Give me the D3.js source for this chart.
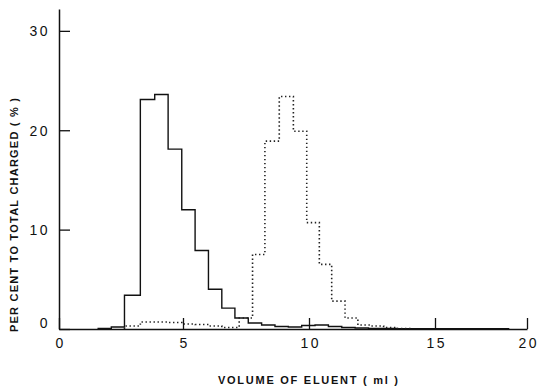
<!DOCTYPE html>
<html>
<head>
<meta charset="utf-8">
<script src="https://cdn.jsdelivr.net/npm/d3@7"></script>
<style>
  html, body { margin: 0; padding: 0; background: #fff; }
  svg { display: block; }
  text { font-family: "Liberation Sans", Arial, sans-serif; fill: #111; }
</style>
</head>
<body>
<svg id="chart" width="548" height="387"></svg>
<script>
// ---- data ----
const xTicks = [0, 5, 10, 15, 20];
const yTicks = [0, 10, 20, 30];

// solid histogram: bin edges (ml) and per cent values
const solidEdges = [1.58, 2.11, 2.64, 3.28, 3.86, 4.40, 4.95, 5.48, 6.01, 6.54, 7.06, 7.59, 8.12, 8.65, 9.18, 9.71, 10.24, 10.77, 11.30, 11.83, 12.36, 13.5, 15.0, 19.0];
const solidValues = [0.05, 0.2, 3.4, 23.1, 23.6, 18.1, 12.0, 7.9, 4.0, 2.1, 1.1, 0.6, 0.4, 0.25, 0.2, 0.35, 0.4, 0.25, 0.15, 0.1, 0.05, 0.03, 0.02];

// dotted histogram
const dottedEdges = [2.64, 3.28, 3.86, 4.40, 4.95, 5.48, 6.01, 6.54, 7.23, 7.76, 8.25, 8.82, 9.38, 9.91, 10.41, 10.90, 11.43, 11.94, 12.43, 12.96, 13.50, 14.0];
const dottedValues = [0.3, 0.7, 0.7, 0.65, 0.5, 0.45, 0.3, 0.15, 1.1, 7.5, 18.9, 23.4, 19.9, 10.7, 6.5, 2.8, 1.1, 0.4, 0.3, 0.15, 0.05];

const xTitle = "VOLUME OF ELUENT ( ml )";
const yTitle = "PER CENT TO TOTAL CHARGED ( % )";

// ---- drawing ----
const svg = d3.select("#chart");

// the printed axis is slightly compressed between 15 and 20
const x = d3.scaleLinear().domain([0, 5, 10, 15, 20]).range([59, 183, 309, 435, 527]);
const y = d3.scaleLinear().domain([0, 32.2]).range([329, 9]);

function stepPoints(edges, values) {
  const pts = [[edges[0], 0]];
  values.forEach((v, i) => { pts.push([edges[i], v]); pts.push([edges[i + 1], v]); });
  pts.push([edges[edges.length - 1], 0]);
  return pts;
}
const line = d3.line().x(d => x(d[0])).y(d => y(d[1]));

svg.append("path")
  .attr("d", line(stepPoints(solidEdges, solidValues)))
  .attr("fill", "none").attr("stroke", "#111").attr("stroke-width", 1.4);

svg.append("path")
  .attr("d", line(stepPoints(dottedEdges, dottedValues)))
  .attr("fill", "none").attr("stroke", "#222").attr("stroke-width", 1.6)
  .attr("stroke-dasharray", "1.4 2.6");

// axes
const xAxis = d3.axisBottom(x).tickValues(xTicks).tickSizeInner(-11).tickSizeOuter(0).tickPadding(0).tickFormat(d3.format("d"));
const gx = svg.append("g").attr("transform", `translate(0,${y(0)})`).call(xAxis);
gx.select(".domain").attr("stroke", "#111").attr("stroke-width", 1.5);
gx.selectAll(".tick line").attr("stroke", "#111").attr("stroke-width", 1.3);
gx.selectAll(".tick text").attr("y", 19).attr("dy", 0)
  .style("font-size", "14px").style("letter-spacing", "2.5px").attr("fill", "#111")
  .attr("dx", "1.2px");

const yAxis = d3.axisLeft(y).tickValues(yTicks).tickSizeInner(-11).tickSizeOuter(0).tickPadding(9);
const gy = svg.append("g").attr("transform", `translate(${x(0)},0)`).call(yAxis);
gy.select(".domain").attr("stroke", "#111").attr("stroke-width", 1.5);
gy.selectAll(".tick line").attr("stroke", "#111").attr("stroke-width", 1.3);
gy.selectAll(".tick text")
  .style("font-size", "14px").style("letter-spacing", "2.5px").attr("fill", "#111")
  .attr("dy", d => d === 0 ? "-0.1em" : "0.35em");

// titles
svg.append("text")
  .attr("x", 308).attr("y", 384)
  .attr("text-anchor", "middle")
  .attr("textLength", 180).attr("lengthAdjust", "spacing")
  .style("font-size", "11px").style("font-weight", "bold")
  .text(xTitle);

svg.append("text")
  .attr("transform", "translate(18,215) rotate(-90)")
  .attr("text-anchor", "middle")
  .attr("textLength", 234).attr("lengthAdjust", "spacing")
  .style("font-size", "11px").style("font-weight", "bold")
  .text(yTitle);
</script>
</body>
</html>
